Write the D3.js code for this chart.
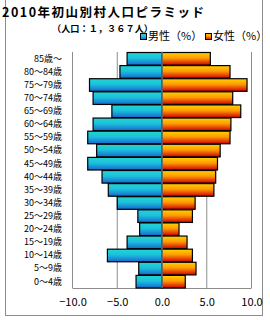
<!DOCTYPE html>
<html lang="ja">
<head>
<meta charset="UTF-8">
<title>2010年初山別村人口ピラミッド</title>
<script src="https://d3js.org/d3.v7.min.js"></script>
<style>
  body { margin: 0; background: #fff; }
  text { font-family: "Noto Sans CJK JP", "DejaVu Sans", sans-serif; fill: #000; }
</style>
</head>
<body>
<svg id="chart" width="270" height="320"></svg>
<script>
// age groups, top to bottom
const ages = ['85歳～', '80～84歳', '75～79歳', '70～74歳', '65～69歳', '60～64歳',
  '55～59歳', '50～54歳', '45～49歳', '40～44歳', '35～39歳', '30～34歳',
  '25～29歳', '20～24歳', '15～19歳', '10～14歳', '5～9歳', '0～4歳'];
// percentages
const male   = [3.9, 4.7, 8.1, 7.7, 5.6, 7.7, 8.3, 7.3, 8.3, 6.7, 6.0, 5.0, 2.7, 2.5, 3.9, 6.1, 2.6, 2.9];
const female = [5.4, 7.6, 9.5, 7.9, 8.8, 7.7, 7.6, 6.5, 6.2, 6.0, 5.8, 3.7, 3.4, 1.9, 2.8, 3.4, 3.8, 2.6];
const ticks = [-10, -5, 0, 5, 10];

const svg = d3.select('#chart');

// gradients
const defs = svg.append('defs');
const grad = (id, top, bottom) => {
  const g = defs.append('linearGradient').attr('id', id)
    .attr('x1', 0).attr('y1', 0).attr('x2', 0).attr('y2', 1);
  g.append('stop').attr('offset', '0%').attr('stop-color', top[0]);
  g.append('stop').attr('offset', '45%').attr('stop-color', top[1]);
  g.append('stop').attr('offset', '100%').attr('stop-color', bottom);
};
grad('gMale', ['#22d6d2', '#1cc0dc'], '#1668d0');
grad('gFemale', ['#ffd200', '#ff9a00'], '#d00000');

// outer frame
svg.append('rect')
  .attr('x', 5.5).attr('y', -5).attr('width', 257).attr('height', 320.5)
  .attr('fill', 'none').attr('stroke', '#8c8c8c');

const x = d3.scaleLinear().domain([-10, 10]).range([72.5, 251.5]);
const y = d3.scaleBand().domain(ages).range([52, 288]).paddingInner(0).paddingOuter(0);

// grid + plot border
const grid = svg.append('g');
grid.selectAll('line').data(ticks).enter().append('line')
  .attr('x1', d => x(d)).attr('x2', d => x(d))
  .attr('y1', 52).attr('y2', 288)
  .attr('stroke', '#8c8c8c');
grid.append('line')
  .attr('x1', x(-10)).attr('x2', x(10)).attr('y1', 288.5).attr('y2', 288.5)
  .attr('stroke', '#8c8c8c');

// bars
svg.append('g').selectAll('rect').data(male).enter().append('rect')
  .attr('x', d => x(-d)).attr('y', (d, i) => y(ages[i]) + 0.5)
  .attr('width', d => x(0) - x(-d)).attr('height', y.bandwidth() - 0.5)
  .attr('fill', 'url(#gMale)').attr('stroke', '#000').attr('stroke-width', 1.2);
svg.append('g').selectAll('rect').data(female).enter().append('rect')
  .attr('x', x(0)).attr('y', (d, i) => y(ages[i]) + 0.5)
  .attr('width', d => x(d) - x(0)).attr('height', y.bandwidth() - 0.5)
  .attr('fill', 'url(#gFemale)').attr('stroke', '#000').attr('stroke-width', 1.2);

// zero line over bars
svg.append('line')
  .attr('x1', x(0)).attr('x2', x(0)).attr('y1', 52).attr('y2', 288)
  .attr('stroke', '#8c8c8c').attr('stroke-width', 1.2);

// category labels
svg.append('g').selectAll('text').data(ages).enter().append('text')
  .attr('x', 62).attr('y', d => y(d) + y.bandwidth() / 2)
  .attr('dy', '0.35em').attr('text-anchor', 'end')
  .attr('font-size', 9).text(d => d);

// x axis labels
const xAxis = d3.axisBottom(x).tickValues(ticks).tickSize(0).tickPadding(0)
  .tickFormat(d => d3.format('.1f')(d).replace('-', '−'));
const ax = svg.append('g').attr('transform', 'translate(0,298)').call(xAxis);
ax.select('.domain').remove();
ax.selectAll('text').attr('font-size', 11).attr('fill', '#000')
  .style('font-family', '"Noto Sans CJK JP", sans-serif');

// titles
svg.append('text').attr('x', 2).attr('y', 16.5)
  .attr('font-size', 12.5).attr('font-weight', 'bold').attr('letter-spacing', 1.5)
  .text('2010年初山別村人口ピラミッド');
svg.append('text').attr('x', 52).attr('y', 32)
  .attr('font-size', 9.2).attr('font-weight', 'bold')
  .text('（人口：１，３６７人）');

// legend
const legend = [
  { label: '男性（%）', fill: 'url(#gMale)', x: 140 },
  { label: '女性（%）', fill: 'url(#gFemale)', x: 205 }
];
const lg = svg.append('g').selectAll('g').data(legend).enter().append('g');
lg.append('rect').attr('x', d => d.x + 0.5).attr('y', 33.5).attr('width', 6).attr('height', 6)
  .attr('fill', d => d.fill).attr('stroke', '#000');
lg.append('text').attr('x', d => d.x + 8).attr('y', 36.5).attr('dy', '0.35em')
  .attr('font-size', 11).text(d => d.label);
</script>
</body>
</html>
